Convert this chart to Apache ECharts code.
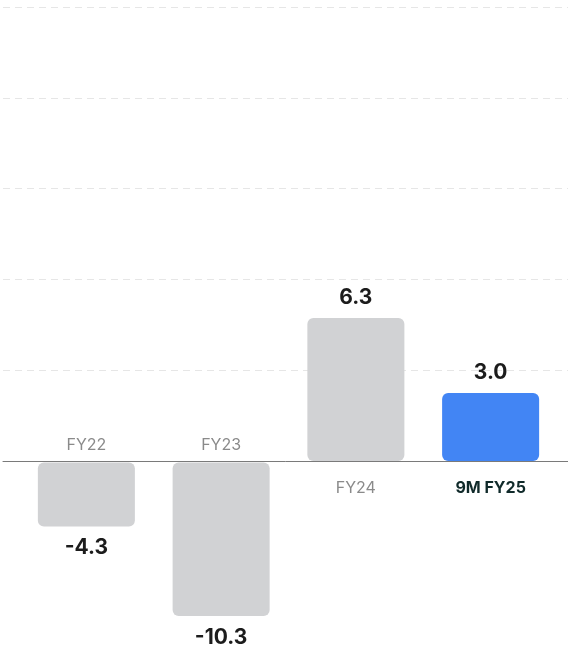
<!DOCTYPE html>
<html>
<head>
<meta charset="utf-8">
<style>
  html, body { margin: 0; padding: 0; background: #ffffff; }
  #chart { width: 568px; height: 652px; }
</style>
<script src="https://cdn.jsdelivr.net/npm/echarts@6/dist/echarts.min.js"></script>
</head>
<body>
<div id="chart"></div>
<script>
// Annual change figures per period
const categories = ['FY22', 'FY23', 'FY24', '9M FY25'];
const values = [-4.3, -10.3, 6.3, 3.0];
const gridTicks = [0, 4, 8, 12, 16, 20];

const highlight = '9M FY25';
const FONT = 'Inter, "Noto Sans", sans-serif';

const positives = values.map(v => (v >= 0 ? v : '-'));
const negatives = values.map(v => (v < 0 ? v : '-'));

const barItem = (cat) => ({
  color: cat === highlight ? '#4285f4' : '#d1d2d4',
  borderRadius: 6
});

const catRich = {
  n: { fontFamily: FONT, fontSize: 16, color: '#8a8a8a' },
  hl: { fontFamily: FONT, fontSize: 16, fontWeight: 'bold', color: '#102a2a' }
};
const catText = (v) => (v === highlight ? '{hl|' + v + '}' : '{n|' + v + '}');

const chart = echarts.init(document.getElementById('chart'), null, { renderer: 'canvas' });

chart.setOption({
  animation: false,
  backgroundColor: '#ffffff',
  grid: [
    // full-width backdrop: dashed guides and the zero line
    { left: 3, right: 0, top: 7, height: 454 },
    // upper panel: positive bars
    { left: 19, right: 10, top: 7, height: 454 },
    // lower panel: negative bars
    { left: 19, right: 10, top: 462.5, height: 12 * 14.9 }
  ],
  xAxis: [
    {
      gridIndex: 0, type: 'value', min: 0, max: 1,
      axisLine: { show: true, lineStyle: { color: '#7a7a7a', width: 1 } },
      axisTick: { show: false }, axisLabel: { show: false }, splitLine: { show: false }
    },
    {
      gridIndex: 1, type: 'category', data: categories, position: 'bottom',
      axisLine: { show: false }, axisTick: { show: false },
      axisLabel: {
        margin: 19,
        interval: 0,
        formatter: (v, i) => (values[i] >= 0 ? catText(v) : ''),
        rich: catRich
      }
    },
    {
      gridIndex: 2, type: 'category', data: categories, position: 'top',
      axisLine: { show: false }, axisTick: { show: false },
      axisLabel: {
        margin: 9,
        interval: 0,
        formatter: (v, i) => (values[i] < 0 ? catText(v) : ''),
        rich: catRich
      }
    }
  ],
  yAxis: [
    {
      gridIndex: 0, type: 'value',
      min: gridTicks[0], max: gridTicks[gridTicks.length - 1], interval: gridTicks[1] - gridTicks[0],
      axisLine: { show: false }, axisTick: { show: false }, axisLabel: { show: false },
      splitLine: { show: true, lineStyle: { color: '#e6e6e6', type: [7, 5], width: 1 } }
    },
    {
      gridIndex: 1, type: 'value', min: 0, max: 20,
      axisLine: { show: false }, axisTick: { show: false }, axisLabel: { show: false }, splitLine: { show: false }
    },
    {
      gridIndex: 2, type: 'value', min: -12, max: 0,
      axisLine: { show: false }, axisTick: { show: false }, axisLabel: { show: false }, splitLine: { show: false }
    }
  ],
  series: [
    {
      type: 'bar', xAxisIndex: 1, yAxisIndex: 1,
      barWidth: '72%',
      data: positives.map((v, i) => ({ value: v, itemStyle: barItem(categories[i]) })),
      label: {
        show: true, position: 'top', distance: 10,
        fontFamily: FONT, fontSize: 21, fontWeight: 'bold', color: '#1c1c1c',
        formatter: p => Number(p.value).toFixed(1)
      },
      z: 3
    },
    {
      type: 'bar', xAxisIndex: 2, yAxisIndex: 2,
      barWidth: '72%',
      data: negatives.map((v, i) => ({ value: v, itemStyle: barItem(categories[i]) })),
      label: {
        show: true, position: 'bottom', distance: 11,
        fontFamily: FONT, fontSize: 21, fontWeight: 'bold', color: '#1c1c1c',
        formatter: p => Number(p.value).toFixed(1)
      },
      z: 3
    }
  ]
});
</script>
</body>
</html>
